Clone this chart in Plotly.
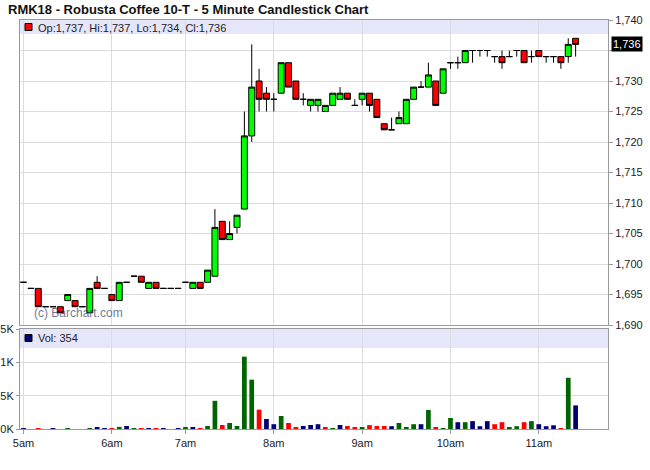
import plotly.graph_objects as go

# ---------------- data ----------------
times = ["05:00", "05:05", "05:10", "05:15", "05:20", "05:25", "05:30", "05:35", "05:40", "05:45", "05:50", "05:55",
         "06:00", "06:05", "06:10", "06:15", "06:20", "06:25", "06:30", "06:35", "06:40", "06:45",
         "07:00", "07:05", "07:10", "07:15", "07:20", "07:25", "07:30", "07:35", "07:40", "07:45", "07:50", "07:55",
         "08:00", "08:05", "08:10", "08:15", "08:20", "08:25", "08:30", "08:35", "08:40", "08:45", "08:50", "08:55",
         "09:00", "09:05", "09:10", "09:15", "09:20", "09:25", "09:30", "09:35", "09:40", "09:45", "09:50", "09:55",
         "10:00", "10:05", "10:10", "10:15", "10:20", "10:25", "10:30", "10:35", "10:40", "10:45", "10:50", "10:55",
         "11:00", "11:05", "11:10", "11:15", "11:20", "11:25"]

opens = [1697, 1696, 1696, 1693, 1693, 1693, 1694, 1694, 1693, 1692, 1697, 1696,
         1695, 1694, 1697, 1698, 1698, 1696, 1697, 1696, 1696, 1696,
         1697, 1696, 1697, 1697, 1698, 1707, 1704, 1706, 1709, 1721, 1730, 1728,
         1727, 1728, 1733, 1730, 1727, 1726, 1726, 1725, 1726, 1727, 1728, 1726,
         1727, 1728, 1727, 1723, 1722, 1723, 1723, 1727, 1729, 1729, 1730, 1728,
         1733, 1733, 1733, 1735, 1735, 1735, 1734, 1734, 1734, 1735, 1735, 1734,
         1735, 1734, 1734, 1734, 1734, 1737]
highs = [1697, 1696, 1696, 1693, 1693, 1693, 1695, 1694, 1693, 1696, 1698, 1696,
         1695, 1697, 1697, 1698, 1698, 1697, 1697, 1696, 1696, 1696,
         1697, 1697, 1697, 1699, 1709, 1707, 1707, 1708, 1725, 1736, 1732, 1729,
         1728, 1733, 1733, 1730, 1728, 1727, 1727, 1726, 1728, 1729, 1728, 1727,
         1728, 1728, 1727, 1723, 1724, 1725, 1727, 1729, 1730, 1733, 1730, 1732,
         1733, 1734, 1735, 1735, 1735, 1735, 1734, 1735, 1735, 1735, 1735, 1735,
         1735, 1734, 1734, 1734, 1737, 1737]
lows = [1697, 1696, 1693, 1693, 1693, 1692, 1694, 1693, 1693, 1692, 1696, 1696,
        1694, 1694, 1697, 1698, 1697, 1696, 1696, 1696, 1696, 1696,
        1697, 1696, 1696, 1697, 1698, 1704, 1704, 1705, 1709, 1720, 1725, 1725,
        1725, 1728, 1729, 1727, 1726, 1725, 1725, 1725, 1726, 1727, 1727, 1726,
        1726, 1725, 1724, 1722, 1722, 1723, 1723, 1727, 1729, 1729, 1726, 1728,
        1732, 1732, 1733, 1733, 1734, 1734, 1733, 1732, 1734, 1734, 1733, 1733,
        1734, 1733, 1733, 1732, 1733, 1734]
closes = [1697, 1696, 1693, 1693, 1693, 1692, 1695, 1693, 1693, 1696, 1696, 1696,
          1694, 1697, 1697, 1698, 1697, 1697, 1696, 1696, 1696, 1696,
          1697, 1697, 1696, 1699, 1706, 1704, 1705, 1708, 1721, 1729, 1727, 1727,
          1727, 1733, 1729, 1727, 1727, 1727, 1727, 1726, 1728, 1728, 1727, 1726,
          1728, 1726, 1724, 1722, 1722, 1724, 1727, 1729, 1729, 1731, 1726, 1732,
          1733, 1733, 1735, 1735, 1735, 1735, 1734, 1733, 1734, 1735, 1733, 1734,
          1734, 1734, 1734, 1733, 1736, 1736]
volumes = [14, 0, 12, 0, 10, 0, 12, 0, 0, 14, 30, 15,
           15, 32, 45, 15, 15, 12, 14, 12, 0, 12,
           30, 28, 12, 45, 423, 60, 90, 45, 1085, 740, 290, 150,
           72, 195, 90, 30, 45, 60, 72, 28, 12, 60, 45, 28,
           30, 58, 45, 45, 42, 90, 28, 72, 72, 286, 28, 12,
           165, 102, 102, 118, 42, 118, 72, 102, 28, 42, 102, 118,
           72, 42, 56, 12, 768, 354]

hour_ticks = ["05:00", "06:00", "07:00", "08:00", "09:00", "10:00", "11:00"]
hour_labels = ["5am", "6am", "7am", "8am", "9am", "10am", "11am"]
price_ticks = [1690, 1695, 1700, 1705, 1710, 1715, 1720, 1725, 1730, 1735, 1740]
vol_ticks = [0, 500, 1000, 1500]
vol_labels = ["0K", "0.5K", "1K", "1.5K"]

title_text = "RMK18 - Robusta Coffee 10-T - 5 Minute Candlestick Chart"

# ---------------- styling ----------------
UP_VOL, DOWN_VOL, FLAT_VOL = "#006400", "#FF0000", "#000070"
FONT = "Liberation Sans, Arial, sans-serif"
GRID = "#DCDCDC"
FRAME = "#9A9A9A"
BAND = "#E6E6FA"

vol_colors = []
for i, c in enumerate(closes):
    prev = closes[i - 1] if i else c
    vol_colors.append(UP_VOL if c > prev else DOWN_VOL if c < prev else FLAT_VOL)

# price labels: the last-price badge takes the place of the nearest tick label
last = closes[-1]
price_labels = ["" if abs(p - last) < 2.5 else f"{p:,}" for p in price_ticks]

fig = go.Figure()
fig.add_trace(go.Candlestick(
    x=times, open=opens, high=highs, low=lows, close=closes,
    increasing=dict(fillcolor="#00FF00", line=dict(color="black", width=1)),
    decreasing=dict(fillcolor="#FF0000", line=dict(color="black", width=1)),
    whiskerwidth=0, xaxis="x", yaxis="y", showlegend=False, hoverinfo="skip"))
fig.add_trace(go.Bar(
    x=times, y=volumes, marker=dict(color=vol_colors, line=dict(width=0)),
    xaxis="x2", yaxis="y2", showlegend=False, hoverinfo="skip"))

xr = [-0.48, 79.4]
common_x = dict(type="category", range=xr, tickvals=hour_ticks, gridcolor=GRID, gridwidth=1,
                showline=True, linecolor=FRAME, linewidth=1, mirror=True, zeroline=False,
                automargin=False)

fig.update_layout(
    width=650, height=470,
    margin=dict(l=20, r=42, t=20, b=41, autoexpand=False),
    paper_bgcolor="white", plot_bgcolor="white",
    font=dict(family=FONT, size=11, color="#222"),
    title=dict(text=title_text, x=8 / 650, xanchor="left", y=1 - 9 / 470, yanchor="middle",
               font=dict(family=FONT, size=13, color="#111", weight="bold"), automargin=False),
    bargap=0.36, boxgap=0.1, boxgroupgap=0.1,
    xaxis=dict(common_x, domain=[0, 1], anchor="y", showticklabels=False, ticks="",
               rangeslider=dict(visible=False)),
    xaxis2=dict(common_x, domain=[0, 1], anchor="y2", matches="x", showticklabels=True,
                ticktext=hour_labels, ticks="outside", ticklen=4, tickcolor=FRAME),
    yaxis=dict(domain=[104 / 409, 1], anchor="x", side="right", range=[1690, 1740],
               tickvals=price_ticks, ticktext=price_labels, ticks="outside", ticklen=4,
               tickcolor=FRAME, gridcolor=GRID, showline=True, linecolor=FRAME, mirror=True,
               zeroline=False, automargin=False),
    yaxis2=dict(domain=[0, 100 / 409], anchor="x2", side="left", range=[0, 1500],
                tickvals=vol_ticks, ticktext=vol_labels, ticks="outside", ticklen=3, tickcolor=FRAME,
                gridcolor=GRID, showline=True, linecolor=FRAME, mirror=True, zeroline=False,
                automargin=False),
)

# header bands
fig.add_shape(type="rect", xref="x domain", yref="y domain", x0=0, x1=1, y0=1 - 14 / 305, y1=1,
              fillcolor=BAND, line=dict(width=0), layer="below")
fig.add_shape(type="rect", xref="x2 domain", yref="y2 domain", x0=0, x1=1, y0=0.81, y1=1,
              fillcolor=BAND, line=dict(width=0), layer="below")
# legend squares
fig.add_shape(type="rect", xref="x domain", yref="y domain", xsizemode="pixel", ysizemode="pixel",
              xanchor=0, yanchor=1, x0=5, x1=12, y0=-3.5, y1=-10.5,
              fillcolor="#FF0000", line=dict(color="black", width=1))
fig.add_shape(type="rect", xref="x2 domain", yref="y2 domain", xsizemode="pixel", ysizemode="pixel",
              xanchor=0, yanchor=1, x0=5, x1=12, y0=-5.5, y1=-12.5,
              fillcolor=FLAT_VOL, line=dict(color="black", width=1))

fig.add_annotation(xref="x domain", yref="y domain", x=0, y=1, xshift=16, yshift=-7.5,
                   xanchor="left", yanchor="middle", showarrow=False,
                   text=f"Op:{opens[-1]:,}, Hi:{highs[-1]:,}, Lo:{lows[-1]:,}, Cl:{closes[-1]:,}",
                   font=dict(size=11, color="#222"))
fig.add_annotation(xref="x2 domain", yref="y2 domain", x=0, y=1, xshift=16, yshift=-9,
                   xanchor="left", yanchor="middle", showarrow=False,
                   text=f"Vol: {volumes[-1]:,}", font=dict(size=11, color="#222"))
fig.add_annotation(xref="paper", yref="y", x=1, y=last, xshift=3, xanchor="left",
                   yanchor="middle", showarrow=False, text=f"{last:,}",
                   bgcolor="black", borderpad=1, font=dict(size=11, color="white"))
fig.add_annotation(xref="x domain", yref="y domain", x=0, y=0, xshift=12, yshift=12,
                   xanchor="left", yanchor="middle", showarrow=False, text="(c) Barchart.com",
                   font=dict(size=12, color="rgba(60,72,110,0.75)"))

fig.write_html("out.html", config={"displayModeBar": False},
               post_script="document.body.style.margin='0';")
